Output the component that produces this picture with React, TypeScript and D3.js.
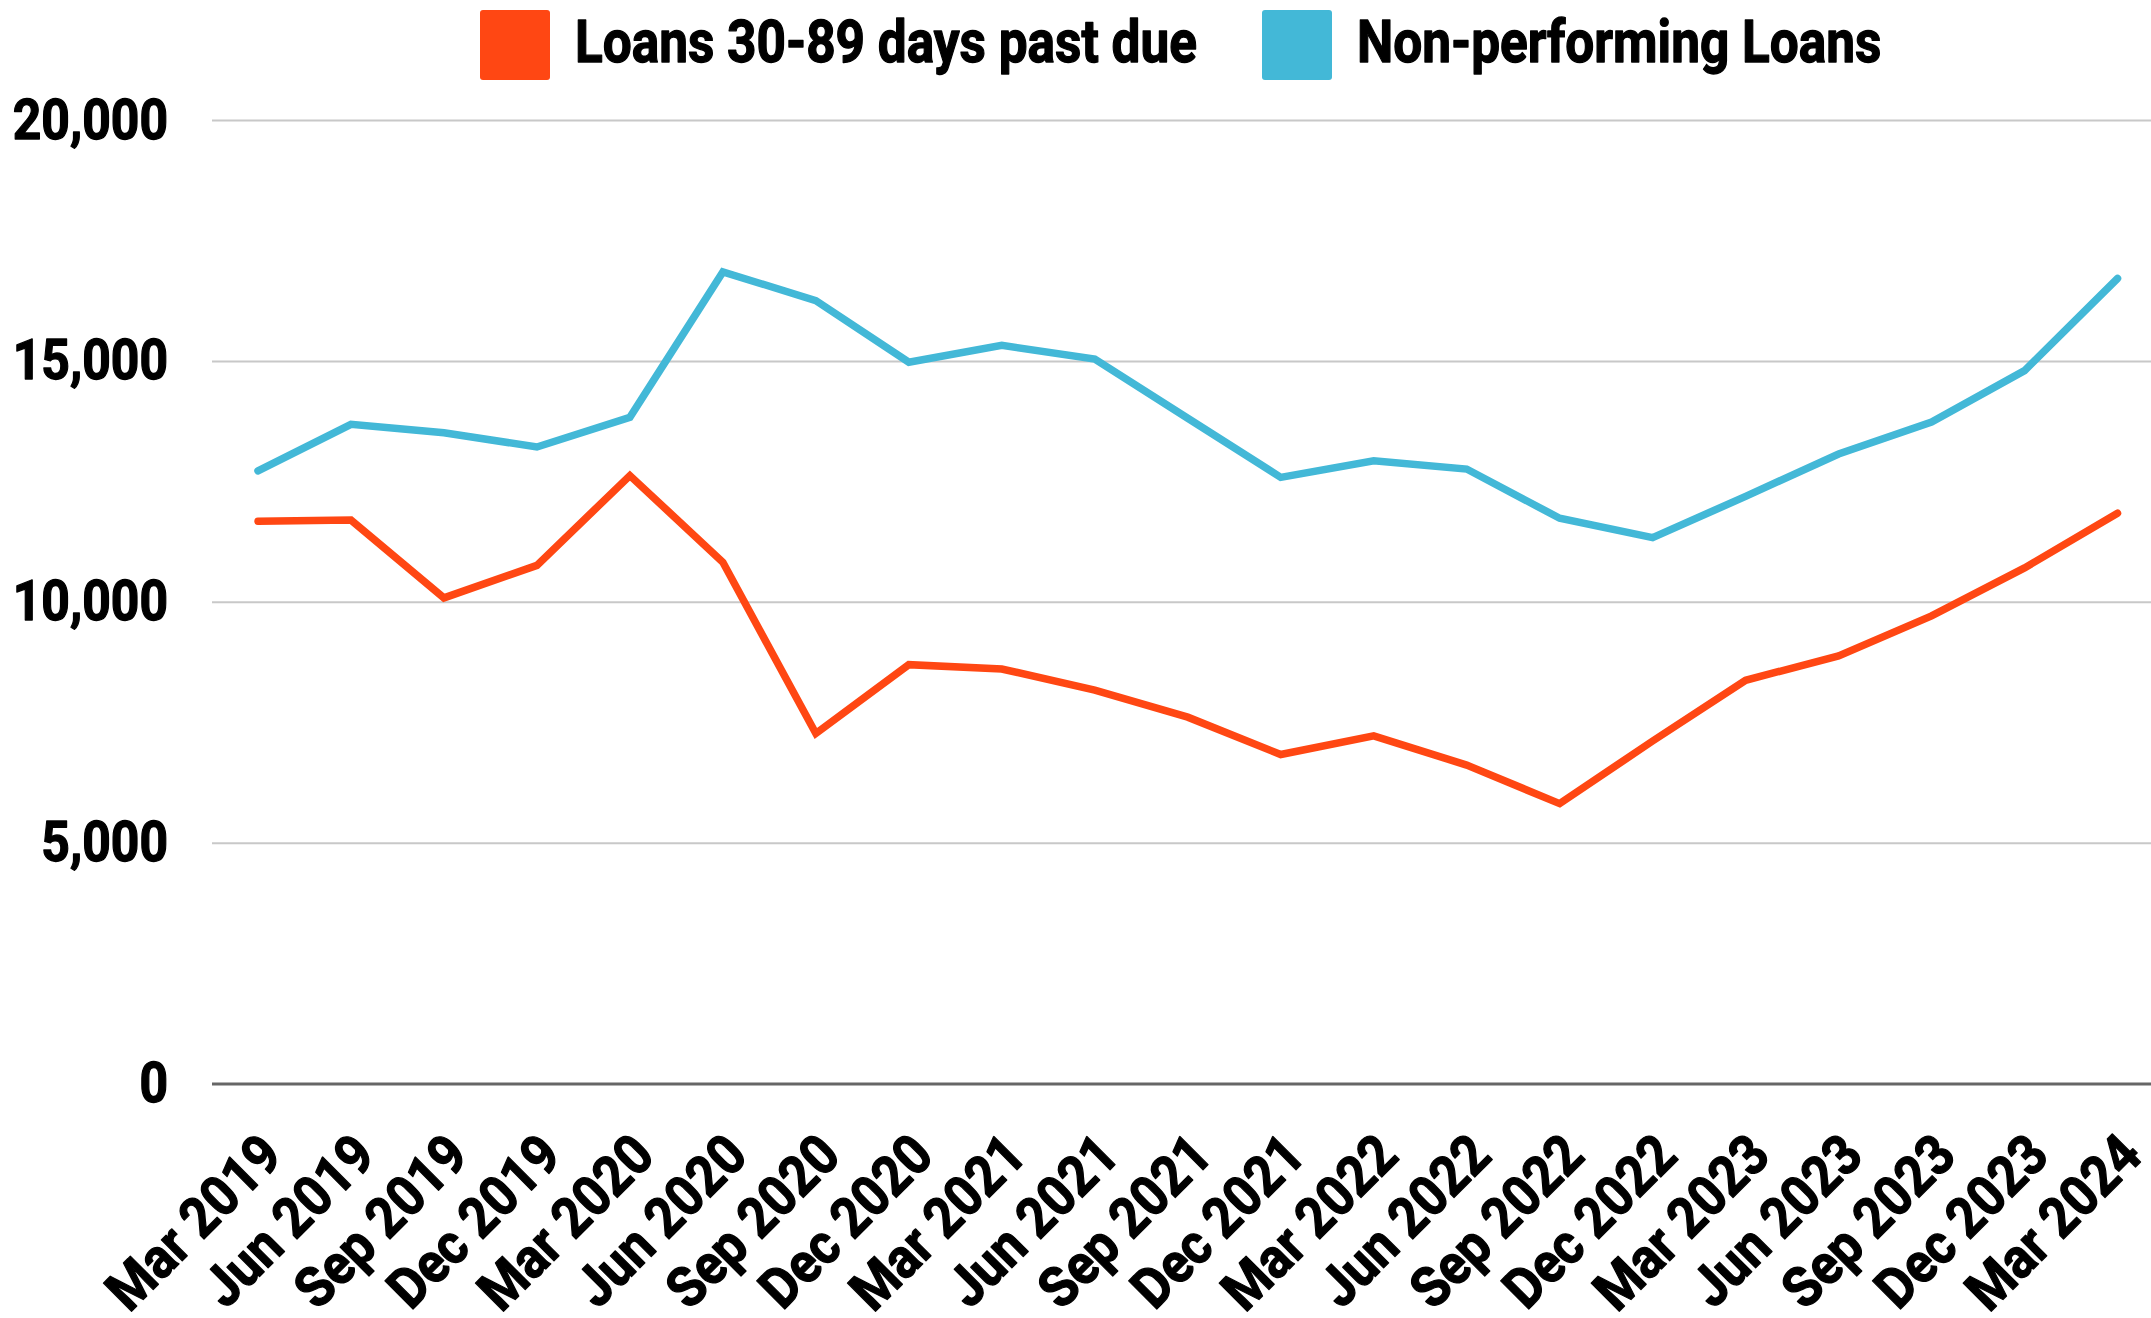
// App.tsx
import { useEffect, useRef } from "react";
import * as d3 from "d3";

//=============================== DATA ===============================
// Quarter-end dates on the x axis
const quarters = [
  "Mar 2019", "Jun 2019", "Sep 2019", "Dec 2019",
  "Mar 2020", "Jun 2020", "Sep 2020", "Dec 2020",
  "Mar 2021", "Jun 2021", "Sep 2021", "Dec 2021",
  "Mar 2022", "Jun 2022", "Sep 2022", "Dec 2022",
  "Mar 2023", "Jun 2023", "Sep 2023", "Dec 2023",
  "Mar 2024",
];

// Loans 30-89 days past due
const pastDue = [
  11680, 11705, 10090, 10765, 12630, 10830, 7275, 8705, 8615, 8175, 7615,
  6840, 7225, 6620, 5820, 7120, 8380, 8888, 9718, 10713, 11848,
];

// Non-performing loans
const nonPerforming = [
  12728, 13694, 13520, 13222, 13838, 16858, 16262, 14982, 15333, 15047, 13820,
  12593, 12938, 12765, 11744, 11341, 12198, 13076, 13742, 14808, 16720,
];

const yTicks = [0, 5000, 10000, 15000, 20000];

const seriesNames = ["Loans 30-89 days past due", "Non-performing Loans"];
const seriesColors = ["#FF4713", "#43B8D7"];

//=============================== LAYOUT ===============================
const W = 2151;
const H = 1318;
const plotLeft = 212;
const plotTop = 120.5;
const plotBottom = 1084;
const FONT = "Roboto, 'Liberation Sans', Arial, sans-serif";
const SQUEEZE = 0.88; // the original uses a condensed face
const EMBOLDEN = 1.3; // a thin outline makes Roboto Bold look as heavy as the original

// shared text styling
const styleText = (sel: any, size: number) =>
  sel
    .attr("font-family", FONT)
    .attr("font-weight", 700)
    .attr("font-size", size)
    .attr("fill", "#000")
    .attr("stroke", "#000")
    .attr("stroke-width", EMBOLDEN)
    .attr("stroke-linejoin", "round");

const App = () => {
  const svgRef = useRef<SVGSVGElement | null>(null);

  useEffect(() => {
    const svg = d3.select(svgRef.current);
    svg.selectAll("*").remove();

    const x = d3
      .scalePoint<string>()
      .domain(quarters)
      .range([plotLeft - 0.5, 2164])
      .padding(0.5);
    const y = d3.scaleLinear().domain([0, 20000]).range([plotBottom, plotTop]);
    const fmt = d3.format(",");

    // grid lines + y labels
    const grid = svg.append("g");
    grid
      .selectAll("line")
      .data(yTicks)
      .join("line")
      .attr("x1", plotLeft)
      .attr("x2", W)
      .attr("y1", (d) => y(d))
      .attr("y2", (d) => y(d))
      .attr("stroke", (d) => (d === 0 ? "#666" : "#c8c8c8"))
      .attr("stroke-width", (d) => (d === 0 ? 3 : 2));

    styleText(
      grid
        .selectAll("text")
        .data(yTicks)
        .join("text")
        .attr("transform", (d) => `translate(168,${y(d) + 18}) scale(${SQUEEZE + 0.01},1)`)
        .attr("text-anchor", "end")
        .text((d) => fmt(d)),
      56
    );

    // x labels, slanted
    styleText(
      svg
        .append("g")
        .selectAll("text")
        .data(quarters)
        .join("text")
        .attr(
          "transform",
          (d) => `translate(${(x(d) ?? 0) + 27},1158) rotate(-45) scale(${SQUEEZE + 0.03},1)`
        )
        .attr("text-anchor", "end")
        .text((d) => d),
      56
    );

    // the two lines
    const line = d3
      .line<number>()
      .x((_, i) => x(quarters[i]) ?? 0)
      .y((d) => y(d));

    [pastDue, nonPerforming].forEach((vals, i) => {
      svg
        .append("path")
        .datum(vals)
        .attr("d", line)
        .attr("fill", "none")
        .attr("stroke", seriesColors[i])
        .attr("stroke-width", 7.5)
        .attr("stroke-linecap", "round")
        .attr("stroke-linejoin", "miter");
    });

    // legend on top
    const legendX = [480, 1262];
    const legend = svg.append("g");
    seriesNames.forEach((name, i) => {
      const item = legend.append("g").attr("transform", `translate(${legendX[i]},10)`);
      item
        .append("rect")
        .attr("width", 70)
        .attr("height", 70)
        .attr("rx", 3)
        .attr("fill", seriesColors[i]);
      styleText(
        item
          .append("text")
          .attr("transform", `translate(95,52) scale(${SQUEEZE - 0.01},1)`)
          .text(name),
        59
      );
    });
  }, []);

  return (
    <svg
      ref={svgRef}
      width={W}
      height={H}
      style={{ position: "absolute", left: 0, top: 0, background: "#fff" }}
    />
  );
};

export default App;
